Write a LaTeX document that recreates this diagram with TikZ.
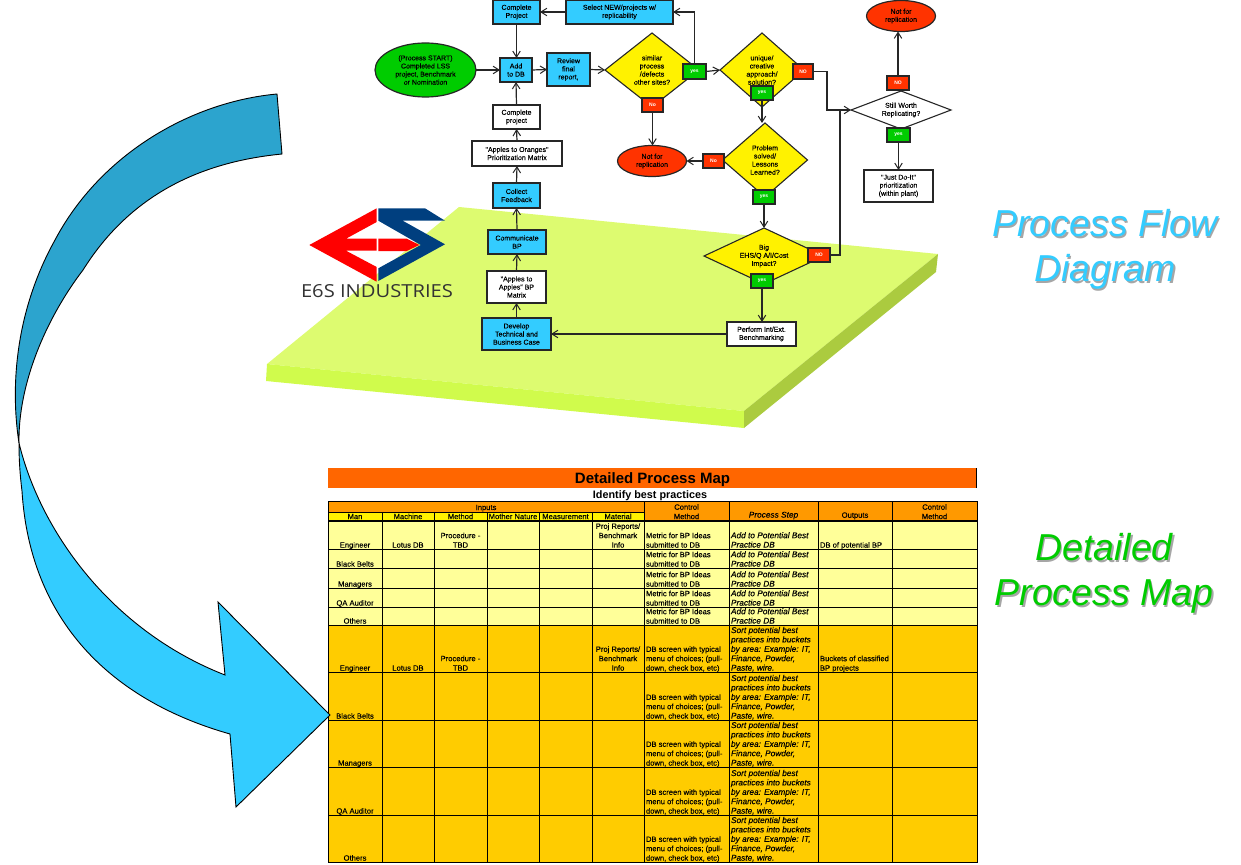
\documentclass[tikz,border=0pt]{standalone}
\usepackage{fontspec}
\usepackage{graphicx}
\setmainfont{Liberation Sans}
\newfontfamily\logofont{Open Sans}
\newfontfamily\heavy[FakeBold=0.15]{Liberation Sans}
\usetikzlibrary{shapes.geometric,arrows.meta}
\definecolor{plattop}{HTML}{DDFB70}
\definecolor{platfront}{HTML}{D0FB4C}
\definecolor{platside}{HTML}{ABCB3F}
\definecolor{flowblue}{HTML}{33CCFF}
\definecolor{darkblue}{HTML}{2CA4CE}
\definecolor{flowgreen}{HTML}{00CC00}
\definecolor{flowred}{HTML}{FF3300}
\definecolor{logoblue}{HTML}{003F7F}
\definecolor{hdrorange}{HTML}{FF9900}
\definecolor{titleorange}{HTML}{FF6600}
\definecolor{lightrow}{HTML}{FFFF99}
\definecolor{darkrow}{HTML}{FFCC00}
\definecolor{edgegray}{HTML}{262626}
\newcommand{\itf}{\fontsize{8.3}{9.4}\selectfont\itshape}
\tikzset{
  x=1pt,y=-1pt,
  flowtext/.style={font=\heavy\fontsize{7}{8.1}\selectfont,align=center,text=black,inner sep=0pt,outer sep=0pt,
     execute at begin node={\rule{0pt}{6.2pt}}},
  bluebox/.style={flowtext,rectangle,draw=edgegray,line width=1.2pt,fill=flowblue},
  whitebox/.style={flowtext,rectangle,draw=edgegray,line width=1.2pt,fill=white},
  startoval/.style={flowtext,ellipse,draw=edgegray,line width=1.2pt,fill=flowgreen,minimum width=101pt,minimum height=54pt},
  stopoval/.style={flowtext,ellipse,draw=edgegray,line width=1.2pt,fill=flowred,minimum width=69pt,minimum height=31pt},
  yellowdec/.style={flowtext,diamond,aspect=1.27,draw=edgegray,line width=1.1pt,fill=yellow},
  whitedec/.style={flowtext,diamond,aspect=2.6,draw=edgegray,line width=1.1pt,fill=white},
  tagbox/.style={rectangle,draw=edgegray,line width=1.2pt,inner sep=0pt,outer sep=0pt,minimum height=14pt,
     font=\fontsize{5}{5}\selectfont\bfseries,text=white},
  yestag/.style={tagbox,fill=flowgreen,minimum width=22pt},
  notag/.style={tagbox,fill=flowred,minimum width=21pt},
  link/.style={draw=edgegray,line width=1.2pt,-{Straight Barb[length=6pt,width=7.5pt,line width=1pt]}},
  plainlink/.style={draw=edgegray,line width=1.2pt},
  bigtitle/.style={font=\fontsize{37.5}{45}\selectfont\itshape,align=center,inner sep=0pt},
  cellc/.style={anchor=south,align=center,inner sep=0pt,outer sep=0pt,font=\heavy\fontsize{7.6}{9.4}\selectfont},
  celll/.style={anchor=south west,align=left,inner sep=0pt,outer sep=0pt,font=\heavy\fontsize{7.6}{9.4}\selectfont},
  gridline/.style={draw=black,line width=0.9pt},
  bigarrow/.style={draw=black,line width=0.9pt,line join=miter},
}
\newcount\tcnt
\newcommand{\cellC}[3]{\global\advance\tcnt by 1 \node[cellc] (t\the\tcnt) at (#1,#2+0.8) {#3\rule[-2.2pt]{0pt}{2.2pt}};}
\newcommand{\cellL}[3]{\global\advance\tcnt by 1 \node[celll] (t\the\tcnt) at (#1,#2+0.8) {#3\rule[-2.2pt]{0pt}{2.2pt}};}
\begin{document}
\begin{tikzpicture}
\useasboundingbox (0,0) rectangle (1241,864);
% platform
\fill[plattop] (459,207) -- (938,254) -- (744,411) -- (267,364) -- cycle;
\fill[platfront] (267,364) -- (744,411) -- (744,428) -- (266,381) -- cycle;
\fill[platside] (938,254) -- (936,272) -- (744,428) -- (744,411) -- cycle;
% logo
\fill[red] (376.7,208.3) -- (309.3,245) -- (376.7,281.7) -- (376.7,267) -- (346,250.7) -- (376.7,250.7) -- (376.7,238.7) -- (346,238.7) -- (376.7,222) -- cycle;
\fill[red] (378.3,238.7) -- (406.7,238.7) -- (419.3,245) -- (406.7,251) -- (378.3,251) -- cycle;
\fill[logoblue] (378.3,208.3) -- (425,208.3) -- (445,220.7) -- (402.7,220.7) -- (445,244.3) -- (378.3,281) -- (378.3,268.3) -- (420.7,245) -- (378.3,220.7) -- cycle;
\node[inner sep=0pt,text=black!80] (logotext) at (377,291) {\resizebox{152pt}{13pt}{\logofont\fontsize{16}{16}\selectfont E6S INDUSTRIES}};
% nodes
\node[bluebox,minimum width=47pt,minimum height=24pt] (cpA) at (516.5,12) {Complete\\Project};
\node[bluebox,minimum width=107pt,minimum height=24pt] (sel) at (619.5,12) {Select NEW/projects w/\\replicability};
\node[startoval] (start) at (425.5,70) {(Process START)\\Completed LSS\\project, Benchmark\\or Nomination};
\node[bluebox,minimum width=32pt,minimum height=24pt] (add) at (516,70) {Add\\to DB};
\node[bluebox,minimum width=43pt,minimum height=33pt] (rev) at (568.5,69.5) {Review\\final\\report,};
\node[yellowdec,minimum width=94pt,minimum height=74pt] (d1) at (652,70) {similar\\process\\/defects\\other sites?};
\node[yellowdec,minimum width=84pt,minimum height=74pt] (d2) at (762,70) {unique/\\creative\\approach/\\solution?};
\node[yellowdec,minimum width=85pt,minimum height=74pt] (d3) at (765,160) {Problem\\solved/\\Lessons\\Learned?};
\node[yellowdec,aspect=2.14,minimum width=120pt,minimum height=56pt] (d5) at (764,256) {Big\\EHS/Q A/I/Cost\\Impact?};
\node[whitedec,minimum width=100pt,minimum height=38pt] (d4) at (901,110) {Still Worth\\Replicating?};
\node[stopoval] (stopA) at (652,161) {Not for\\replication};
\node[stopoval] (stopB) at (901,16) {Not for\\replication};
\node[whitebox,minimum width=69pt,minimum height=32pt] (just) at (898.5,186) {"Just Do-It"\\prioritization\\(within plant)};
\node[whitebox,minimum width=47pt,minimum height=24pt] (cpB) at (516.5,117) {Complete\\project};
\node[whitebox,minimum width=90pt,minimum height=25pt] (oran) at (517,153.5) {"Apples to Oranges"\\Prioritization Matrix};
\node[bluebox,minimum width=47pt,minimum height=25pt] (coll) at (516.5,195.5) {Collect\\Feedback};
\node[bluebox,minimum width=58pt,minimum height=24pt] (comm) at (517,242) {Communicate\\BP};
\node[whitebox,minimum width=59pt,minimum height=32pt] (appl) at (516.5,287) {"Apples to\\Apples" BP\\Matrix};
\node[bluebox,minimum width=69pt,minimum height=32pt] (dev) at (516.5,334) {Develop\\Technical and\\Business Case};
\node[whitebox,minimum width=69pt,minimum height=24pt] (perf) at (761.5,334) {Perform Int/Ext.\\Benchmarking};
% tags
\node[notag] (n1) at (652.5,105) {No};
\node[yestag,minimum width=23pt,minimum height=15pt] (y1) at (694.5,71.5) {yes};
\node[yestag] (y2) at (762,93) {yes};
\node[notag,minimum width=20pt,minimum height=15pt] (n2) at (803,71.5) {NO};
\node[notag] (n3) at (713.5,161) {No};
\node[yestag] (y3) at (764,197) {yes};
\node[yestag] (y5) at (762,281) {yes};
\node[notag,minimum width=22pt] (n5) at (819,255) {NO};
\node[notag,minimum width=22pt] (n4) at (898,83) {NO};
\node[yestag,minimum width=23pt] (y4) at (898.5,135) {yes};
% connectors
\coordinate (join) at (840,110);
\draw[link] (start.east) -- (add.west);
\draw[link] (add.east) -- (rev.west);
\draw[link] (rev.east) -- (d1.west);
\draw[link] (cpA.south) -- (cpA.south |- add.north);
\draw[link] (sel.west) -- (cpA.east);
\draw[link] (y1.north) |- (sel.east);
\draw[link] (y1.east) -- (d2.west);
\draw[link] (n1.south) -- (n1.south |- stopA.north);
\draw[link] (y2.south) -- (y2.south |- d3.north);
\draw[link] (n3.west) -- (stopA.east);
\draw[link] (y3.south) -- (y3.south |- d5.north);
\draw[link] (y5.south) -- (y5.south |- perf.north);
\draw[link] (perf.west) -- (dev.east);
\draw[link] (dev.north) -- (appl.south);
\draw[link] (appl.north) -- (comm.south);
\draw[link] (comm.north) -- (coll.south);
\draw[link] (coll.north) -- (oran.south);
\draw[link] (oran.north) -- (cpB.south);
\draw[link] (cpB.north) -- (add.south);
\draw[link] (n4.north) -- (n4.north |- stopB.south);
\draw[link] (y4.south) -- (y4.south |- just.north);
\draw[plainlink] (n5.east) -| (join);
\draw[link] (n2.east) -- ++(14,0) |- (d4.west);
% table
\fill[titleorange] (328,468) rectangle (976,488);
\draw[gridline] (976.5,468) -- (976.5,488);
\node[inner sep=0pt,font=\fontsize{15}{15}\selectfont\bfseries] (tabtitle) at (652.5,479.5) {Detailed Process Map};
\node[inner sep=0pt,font=\fontsize{10.8}{12}\selectfont\bfseries] (tabsub) at (650,496) {Identify best practices};
\fill[hdrorange] (328,501) rectangle (644,512);
\fill[yellow] (328,512) rectangle (644,521);
\fill[hdrorange] (644,501) rectangle (977,521);
\fill[lightrow] (328,521) rectangle (977,625);
\fill[darkrow] (328,625) rectangle (977,862);
\foreach \cx in {382,434,487,539,592} \draw[gridline] (\cx,512) -- (\cx,862);
\foreach \cx in {644,729,818,892} \draw[gridline] (\cx,501) -- (\cx,862);
\foreach \ry in {549,568,588,607,625,672,720,767,815} \draw[gridline] (328,\ry) -- (977,\ry);
\draw[gridline] (328,512) -- (644,512);
\draw[draw=black,line width=1.6pt] (328,521) -- (977,521);
\draw[gridline] (328,501) rectangle (977,862);
% header text
\node[cellc] (hInputs) at (486,512.2) {Inputs\rule[-2.2pt]{0pt}{2.2pt}};
\cellC{355}{520.5}{\underline{Man}}
\cellC{408}{520.5}{\underline{Machine}}
\cellC{460.5}{520.5}{\underline{Method}}
\cellC{513}{520.5}{\underline{Mother Nature}}
\cellC{565.5}{520.5}{\underline{Measurement}}
\cellC{618}{520.5}{\underline{Material}}
\cellC{686.5}{520.5}{Control\\\underline{Method}}
\cellC{773.5}{520.5}{\underline{\itf Process Step}}
\cellC{855}{520.5}{\underline{Outputs}}
\cellC{934.5}{520.5}{Control\\\underline{Method}}
% left column rows
\cellC{355}{549}{Engineer}
\cellC{355}{568}{Black Belts}
\cellC{355}{588}{Managers}
\cellC{355}{607}{QA Auditor}
\cellC{355}{625}{Others}
\cellC{355}{672}{Engineer}
\cellC{355}{720}{Black Belts}
\cellC{355}{767}{Managers}
\cellC{355}{815}{QA Auditor}
\cellC{355}{862}{Others}
\cellC{408}{549}{Lotus DB}
\cellC{408}{672}{Lotus DB}
\cellC{460.5}{549}{Procedure -\\TBD}
\cellC{460.5}{672}{Procedure -\\TBD}
\cellC{618}{549}{Proj Reports/\\Benchmark\\Info}
\cellC{618}{672}{Proj Reports/\\Benchmark\\Info}
\foreach \ry in {549,568,588,607,625} {
  \cellL{646}{\ry}{Metric for BP Ideas\\submitted to DB}
  \cellL{731}{\ry}{\itf Add to Potential Best\\\itf Practice DB}
}
\foreach \ry in {672,720,767,815,862} {
  \cellL{646}{\ry}{DB screen with typical\\menu of choices; (pull-\\down, check box, etc)}
  \cellL{731}{\ry}{\itf Sort potential best\\\itf practices into buckets\\\itf by area: Example: IT,\\\itf Finance, Powder,\\\itf Paste, wire.}
}
\cellL{820}{549}{DB of potential BP}
\cellL{820}{672}{Buckets of classified\\BP projects}
% big arrow
\path[bigarrow,fill=darkblue] (277,94) -- (282,154)
  .. controls (200,162) and (130,195) .. (83,270)
  .. controls (45,320) and (18,385) .. (19,443)
  .. controls (10,385) and (16,310) .. (55,240)
  .. controls (100,155) and (190,102) .. (277,94) -- cycle;
\path[bigarrow,fill=flowblue] (19,443)
  .. controls (40,530) and (110,630) .. (225,675)
  -- (218,602) -- (330,715) -- (236,807) -- (230,734)
  .. controls (110,700) and (30,620) .. (22,491)
  .. controls (20,475) and (19,460) .. (19,443) -- cycle;
% titles
\node[bigtitle,text=black!35] (pfs) at (1106.5,251) {Process Flow\\Diagram};
\node[bigtitle,text=flowblue] (pf) at (1105,249.5) {Process Flow\\Diagram};
\node[bigtitle,text=black!35] (dps) at (1105.5,575) {Detailed\\Process Map};
\node[bigtitle,text=flowgreen] (dp) at (1104,573.5) {Detailed\\Process Map};
\end{tikzpicture}
\end{document}
